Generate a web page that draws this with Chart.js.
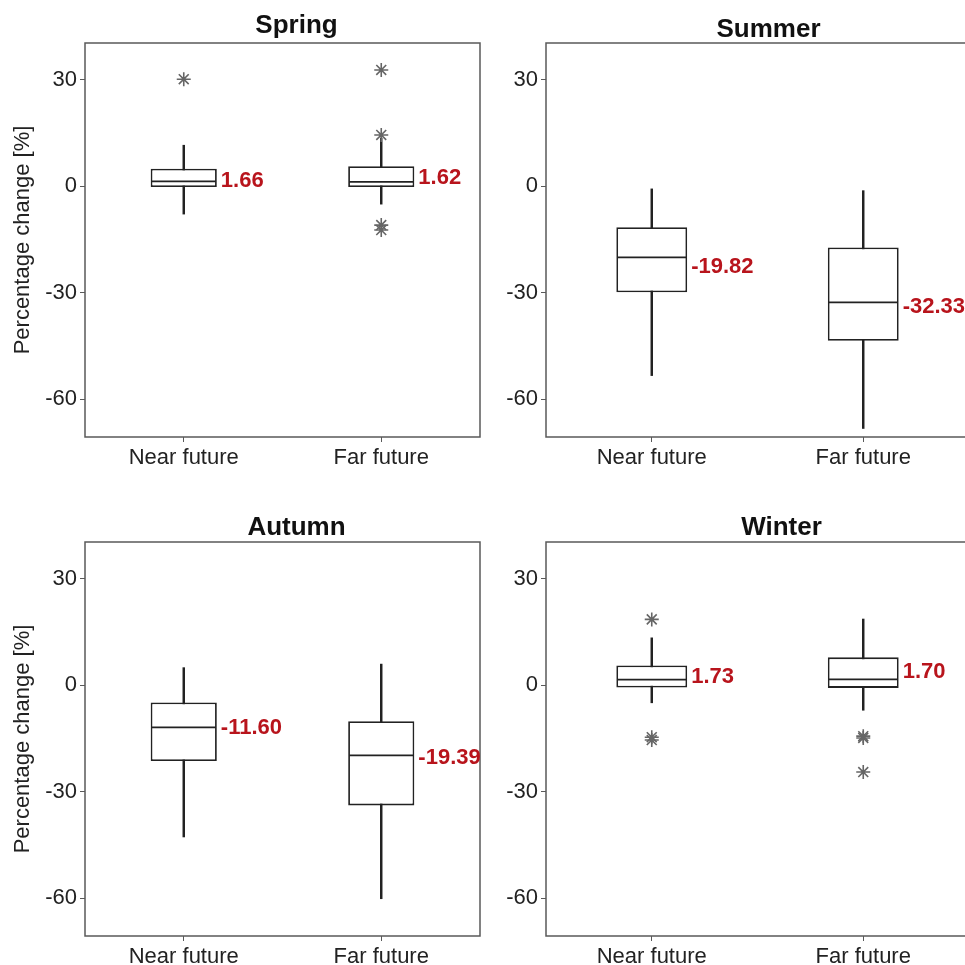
<!DOCTYPE html>
<html>
<head>
<meta charset="utf-8">
<script src="https://cdn.jsdelivr.net/npm/chart.js@4.4.1/dist/chart.umd.min.js"></script>
<style>
  html, body { margin: 0; padding: 0; background: #fff; overflow: hidden; width: 965px; height: 965px; }
  canvas { position: absolute; }
</style>
</head>
<body>
<canvas id="c0" width="482" height="480" style="left:0;top:0"></canvas>
<canvas id="c1" width="492" height="480" style="left:480px;top:0"></canvas>
<canvas id="c2" width="482" height="485" style="left:0;top:480px"></canvas>
<canvas id="c3" width="492" height="485" style="left:480px;top:480px"></canvas>
<script>
const categories = ["Near future", "Far future"];
const seasons = ["Spring", "Summer", "Autumn", "Winter"];
const yTicks = [-60, -30, 0, 30];

// one row per season, [near, far]
const whiskerLow = [[-7.9, -5.1], [-53.4, -68.3], [-42.8, -60.2], [-5.0, -7.1]];
const q1 = [[-0.3, -0.3], [-29.9, -43.6], [-21.4, -33.9], [-0.7, -0.8]];
const median = [[1.3, 1.2], [-20.1, -32.8], [-11.9, -19.8], [1.5, 1.6]];
const q3 = [[4.9, 5.6], [-11.6, -17.3], [-4.9, -10.2], [5.5, 7.8]];
const whiskerHigh = [[11.5, 13.5], [-0.8, -1.3], [4.9, 5.9], [13.3, 18.6]];
const outliersNear = [[30.1], [], [], [18.5, -14.7, -15.5]];
const outliersFar = [[32.7, 14.4, -11.0, -12.4], [], [], [-14.4, -14.9, -24.5]];
const medianText = [["1.66", "1.62"], ["-19.82", "-32.33"], ["-11.60", "-19.39"], ["1.73", "1.70"]];
const medianTextAt = [[1.5, 2.2], [-22.7, -34.0], [-12.1, -20.6], [2.3, 3.7]];

const FONT = '"Liberation Sans", Arial, sans-serif';
const BOX_PCT = 0.335;

const panels = [
  { axisW: 85, padTop: 43, padRight: 2, axisH: 43, yTitle: true, dx: 14, dy: -10 },
  { axisW: 66, padTop: 43, padRight: 3, axisH: 43, yTitle: false, dx: 11, dy: -6 },
  { axisW: 85, padTop: 62, padRight: 2, axisH: 29, yTitle: true, dx: 14, dy: -7 },
  { axisW: 66, padTop: 62, padRight: 3, axisH: 29, yTitle: false, dx: 24, dy: -7 }
];

// frame, season title and the red labels next to each box
const panelDecor = {
  id: "panelDecor",
  afterDatasetsDraw(chart, args, opts) {
    const { ctx, chartArea: a } = chart;
    const y = chart.scales.y;
    const boxes = chart.getDatasetMeta(1).data;
    ctx.save();
    ctx.strokeStyle = "#595959";
    ctx.lineWidth = 1.5;
    ctx.strokeRect(a.left, a.top, a.width, a.height);

    ctx.fillStyle = "#b8141c";
    ctx.font = "bold 22px " + FONT;
    ctx.textAlign = "left";
    ctx.textBaseline = "middle";
    opts.labels.forEach((t, i) => {
      const b = boxes[i];
      ctx.fillText(t, b.x + b.width / 2 + 4, y.getPixelForValue(opts.labelAt[i]));
    });

    ctx.fillStyle = "#111";
    ctx.font = "bold 26px " + FONT;
    ctx.textAlign = "center";
    ctx.textBaseline = "alphabetic";
    ctx.fillText(opts.title, (a.left + a.right) / 2 + opts.dx, a.top + opts.dy);
    ctx.restore();
  }
};

seasons.forEach((season, s) => {
  const p = panels[s];
  const outliers = outliersNear[s].map(v => ({ x: categories[0], y: v }))
    .concat(outliersFar[s].map(v => ({ x: categories[1], y: v })));

  new Chart(document.getElementById("c" + s), {
    type: "bar",
    data: {
      labels: categories,
      datasets: [
        {
          // whiskers
          data: categories.map((c, i) => [whiskerLow[s][i], whiskerHigh[s][i]]),
          backgroundColor: "#222",
          borderWidth: 0,
          barThickness: 1.8,
          grouped: false,
          order: 3
        },
        {
          // boxes
          data: categories.map((c, i) => [q1[s][i], q3[s][i]]),
          backgroundColor: "#fff",
          borderColor: "#222",
          borderWidth: 1.8,
          borderSkipped: false,
          barPercentage: BOX_PCT,
          categoryPercentage: 1,
          grouped: false,
          order: 2
        },
        {
          type: "line",
          data: median[s],
          showLine: false,
          pointStyle: "line",
          pointRadius: c => c.chart.chartArea ? c.chart.chartArea.width / 2 * BOX_PCT / 2 - 1 : 0,
          pointBorderColor: "#222",
          pointBorderWidth: 1.8,
          order: 1
        },
        {
          type: "line",
          data: outliers,
          showLine: false,
          pointStyle: "star",
          pointRadius: 7,
          pointBorderColor: "#666",
          pointBorderWidth: 1.6,
          order: 0
        }
      ]
    },
    options: {
      responsive: false,
      animation: false,
      events: [],
      layout: { autoPadding: false, padding: { top: p.padTop, right: p.padRight, left: 0, bottom: 0 } },
      plugins: {
        legend: { display: false },
        tooltip: { enabled: false },
        panelDecor: {
          title: season,
          dx: p.dx,
          dy: p.dy,
          labels: medianText[s],
          labelAt: medianTextAt[s]
        }
      },
      scales: {
        x: {
          afterFit: sc => { sc.height = p.axisH; },
          grid: { offset: false, drawOnChartArea: false, drawTicks: true, tickLength: 5, color: "#595959" },
          border: { display: false },
          ticks: { color: "#222", font: { family: FONT, size: 22 }, padding: 3 }
        },
        y: {
          min: -70.7,
          max: 40.3,
          afterBuildTicks: sc => { sc.ticks = yTicks.map(v => ({ value: v })); },
          afterFit: sc => { sc.width = p.axisW; },
          grid: { drawOnChartArea: false, drawTicks: true, tickLength: 5, color: "#595959" },
          border: { display: false },
          ticks: { color: "#222", font: { family: FONT, size: 22 }, padding: 3 },
          title: {
            display: p.yTitle,
            text: "Percentage change [%]",
            color: "#222",
            font: { family: FONT, size: 22 },
            padding: { top: 10, bottom: 0 }
          }
        }
      }
    },
    plugins: [panelDecor]
  });
});
</script>
</body>
</html>
